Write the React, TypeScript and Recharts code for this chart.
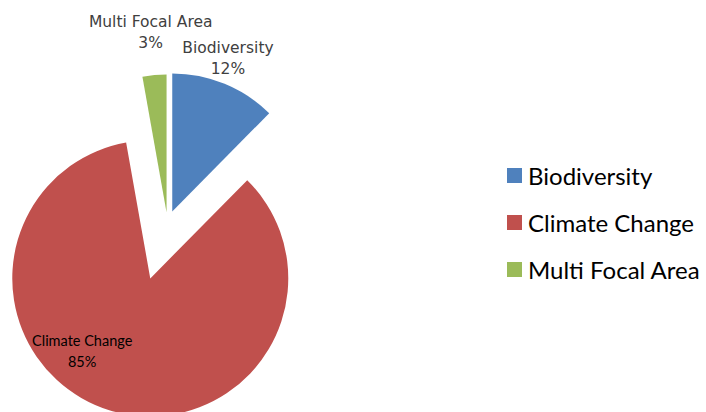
import { Cell, Legend, Pie, PieChart } from "recharts";

const NAMES = ["Biodiversity", "Climate Change", "Multi Focal Area"];
const VALUES = [12.4, 84.8, 2.8];
const COLORS = ["#4f81bd", "#c0504d", "#9bbb59"];

// explosion distance per slice (px)
const EXPLODE = [12.5, 58, 10.5];
// label distance from slice tip and optional angle override (compass degrees)
const LABEL_R = [163, 98, 181];
const LABEL_ANGLE: (number | null)[] = [20, 224, null];

const data = NAMES.map((name, i) => ({ name, value: VALUES[i] }));
const total = VALUES.reduce((a, b) => a + b, 0);

// mid angle of each slice, clockwise from 12 o'clock
const midAngles = VALUES.map((v, i) => {
  const before = VALUES.slice(0, i).reduce((a, b) => a + b, 0);
  return ((before + v / 2) / total) * 360;
});

const offsetOf = (i: number) => {
  const a = (midAngles[i] * Math.PI) / 180;
  return { x: EXPLODE[i] * Math.sin(a), y: -EXPLODE[i] * Math.cos(a) };
};

const renderLabel = (props: any) => {
  const { cx, cy, index, percent, name } = props;
  const off = offsetOf(index);
  const deg = LABEL_ANGLE[index] ?? midAngles[index];
  const a = (deg * Math.PI) / 180;
  const x = cx + off.x + LABEL_R[index] * Math.sin(a);
  const y = cy + off.y - LABEL_R[index] * Math.cos(a);
  const inside = index === 1;
  return (
    <text
      x={x}
      y={y}
      textAnchor="middle"
      fill={inside ? "#000000" : "#404040"}
      fontFamily={inside ? "Lato" : "DejaVu Sans"}
      fontSize={inside ? 14.5 : 15.5}
    >
      <tspan x={x} dy={inside ? -3 : -5}>{name}</tspan>
      <tspan x={x} dy={21}>{Math.round(percent * 100)}%</tspan>
    </text>
  );
};

const renderLegend = () => (
  <div style={{ fontFamily: "Lato", fontSize: 24, color: "#000" }}>
    {NAMES.map((n, i) => (
      <div key={n} style={{ display: "flex", alignItems: "center", height: 47 }}>
        <span
          style={{
            width: 15,
            height: 15,
            background: COLORS[i],
            marginRight: 6,
            display: "inline-block",
          }}
        />
        <span>{n}</span>
      </div>
    ))}
  </div>
);

export default function App() {
  return (
    <div style={{ position: "absolute", left: 0, top: 0, background: "#fff" }}>
      <PieChart width={706} height={412} margin={{ top: 0, right: 0, bottom: 0, left: 0 }}>
        <Pie
          data={data}
          dataKey="value"
          nameKey="name"
          cx={167.5}
          cy={223}
          outerRadius={138}
          startAngle={90}
          endAngle={-270}
          stroke="none"
          label={renderLabel}
          labelLine={false}
          isAnimationActive={false}
        >
          {data.map((d, i) => {
            const off = offsetOf(i);
            return (
              <Cell
                key={d.name}
                fill={COLORS[i]}
                transform={`translate(${off.x},${off.y})`}
              />
            );
          })}
        </Pie>
        <Legend
          layout="vertical"
          content={renderLegend}
          wrapperStyle={{ position: "absolute", left: 507, top: 152, width: 200 }}
        />
      </PieChart>
    </div>
  );
}
